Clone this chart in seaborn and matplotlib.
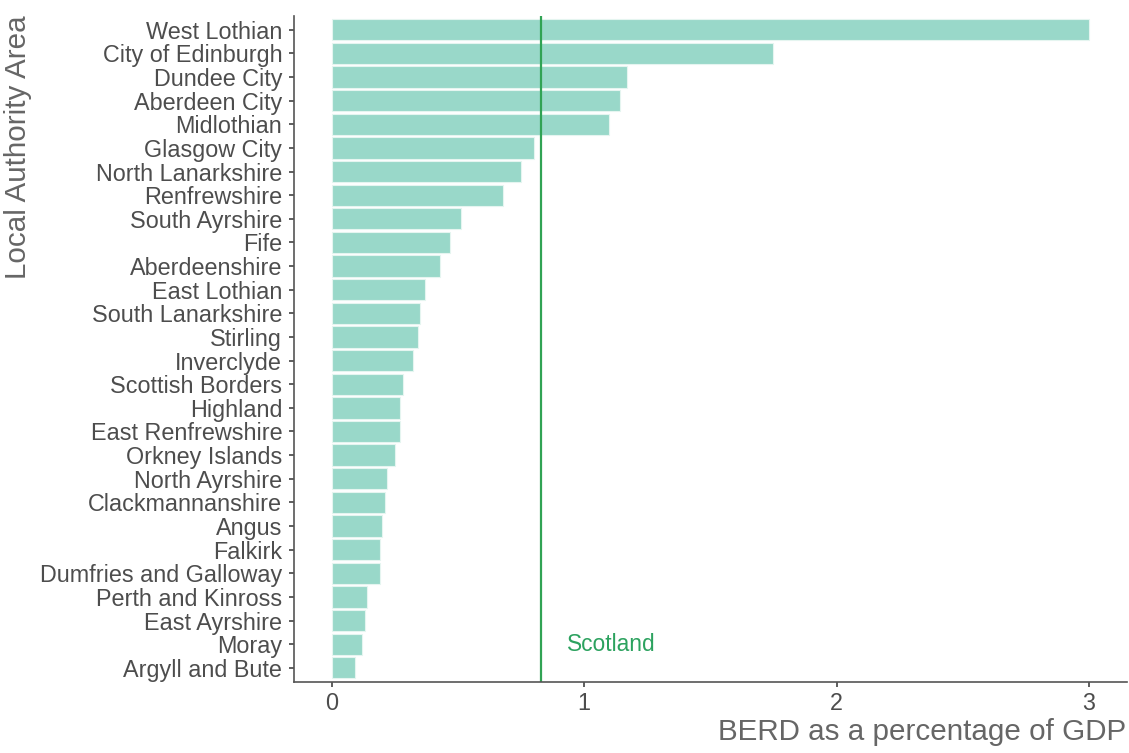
import matplotlib
matplotlib.use("Agg")
import matplotlib.pyplot as plt
import seaborn as sns
import pandas as pd

# BERD as % of GDP by local authority
areas = ["West Lothian", "City of Edinburgh", "Dundee City", "Aberdeen City",
         "Midlothian", "Glasgow City", "North Lanarkshire", "Renfrewshire",
         "South Ayrshire", "Fife", "Aberdeenshire", "East Lothian",
         "South Lanarkshire", "Stirling", "Inverclyde", "Scottish Borders",
         "Highland", "East Renfrewshire", "Orkney Islands", "North Ayrshire",
         "Clackmannanshire", "Angus", "Falkirk", "Dumfries and Galloway",
         "Perth and Kinross", "East Ayrshire", "Moray", "Argyll and Bute"]
berd = [3.00, 1.75, 1.17, 1.14, 1.10, 0.80, 0.75, 0.68,
        0.51, 0.47, 0.43, 0.37, 0.35, 0.34, 0.32, 0.28,
        0.27, 0.27, 0.25, 0.22, 0.21, 0.20, 0.19, 0.19,
        0.14, 0.13, 0.12, 0.09]
scotland = 0.83

df = pd.DataFrame({"area": areas, "berd": berd})

sns.set_style("white")
plt.rcParams["font.family"] = ["Liberation Sans", "DejaVu Sans"]

fig = plt.figure(figsize=(11.29, 7.53), dpi=100)
ax = fig.add_axes([0.2604, 0.0943, 0.7376, 0.885])

sns.barplot(data=df, x="berd", y="area", order=areas, color="#99d8c9",
            saturation=1, width=0.9, edgecolor="#e5f5f0", linewidth=0.8, ax=ax)

ax.axvline(scotland, color="#31a354", linewidth=1.6)
ax.text(scotland + 0.1, areas.index("Moray"), "Scotland", color="#2ca25f",
        fontsize=16.4, va="center", ha="left")

ax.set_xlim(-0.15, 3.15)
ax.set_ylim(len(areas) - 0.4, -0.6)
ax.set_xticks([0, 1, 2, 3])

grey = "#4d4d4d"
for s in ["top", "right"]:
    ax.spines[s].set_visible(False)
for s in ["left", "bottom"]:
    ax.spines[s].set_color("#555555")
    ax.spines[s].set_linewidth(1.2)
ax.tick_params(axis="both", bottom=True, left=True, length=3.5, width=1.1,
               color="#333333", labelsize=16.8, labelcolor=grey)
ax.tick_params(axis="y", pad=5)
ax.tick_params(axis="x", pad=4)

ax.set_xlabel("BERD as a percentage of GDP", loc="right", fontsize=21.3,
              color="#666666", labelpad=2)
ax.set_ylabel("Local Authority Area", loc="top", fontsize=21.3,
              color="#666666", labelpad=6)

fig.savefig("out.png", dpi=100)
